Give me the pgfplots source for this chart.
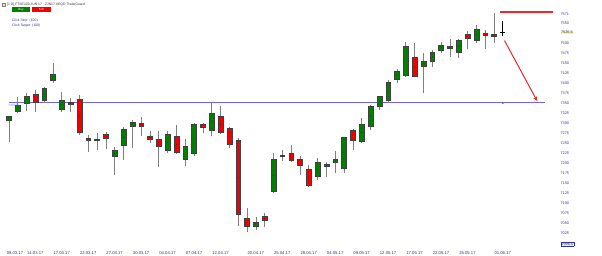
\documentclass[border=0pt]{standalone}
\usepackage{pgfplots}
\pgfplotsset{compat=1.18}
\usepackage{pgfplotstable}
\usepackage{fontspec}
\setmainfont{Liberation Sans}
\usetikzlibrary{arrows.meta}
\definecolor{cgreen}{RGB}{0,128,0}
\definecolor{cred}{RGB}{240,0,0}
\definecolor{navy}{RGB}{50,50,150}
\definecolor{bline}{RGB}{110,100,240}
\definecolor{rline}{RGB}{235,40,40}
\pgfplotstableread{
i o h l c
0 7308 7318 7253 7316
1 7330 7366 7324 7345
2 7349 7374 7331 7368
3 7372 7382 7328 7353
4 7357 7391 7349 7388
5 7407 7449 7401 7421
6 7334 7377 7328 7357
7 7353 7363 7328 7347
8 7359 7370 7270 7276
9 7262 7270 7228 7258
10 7258 7274 7232 7259
11 7272 7278 7234 7262
12 7216 7241 7170 7232
13 7245 7291 7207 7284
14 7293 7307 7237 7303
15 7299 7314 7268 7293
16 7268 7281 7249 7260
17 7260 7281 7189 7241
18 7232 7281 7224 7272
19 7266 7295 7222 7226
20 7210 7259 7192 7242
21 7224 7299 7218 7297
22 7297 7301 7274 7289
23 7282 7349 7268 7324
24 7316 7343 7272 7277
25 7287 7289 7237 7247
26 7256 7263 7042 7072
27 7063 7087 7028 7042
28 7043 7066 7032 7053
29 7067 7074 7041 7057
30 7130 7224 7124 7209
31 7218 7232 7205 7217
32 7224 7245 7203 7207
33 7209 7217 7170 7195
34 7184 7195 7141 7145
35 7166 7212 7157 7203
36 7191 7203 7164 7196
37 7202 7231 7174 7209
38 7187 7266 7174 7264
39 7282 7284 7232 7257
40 7255 7312 7249 7297
41 7291 7345 7282 7342
42 7342 7366 7332 7366
43 7356 7407 7349 7403
44 7410 7435 7400 7430
45 7420 7503 7414 7491
46 7464 7501 7415 7416
47 7441 7474 7374 7455
48 7455 7482 7441 7476
49 7481 7503 7474 7495
50 7487 7509 7466 7493
51 7478 7509 7462 7506
52 7522 7531 7484 7512
53 7507 7545 7501 7534
54 7524 7532 7484 7519
55 7522 7574 7501 7516
}\candles
\begin{document}
\begin{tikzpicture}
\path[use as bounding box] (0,-9pt) rectangle (602pt,247pt);
\begin{axis}[
  x=8.82pt, y=0.4pt,
  xmin=-1, xmax=61.7, ymin=6990, ymax=7607.5,
  axis line style={draw=none},
  tick style={draw=none},
  xtick={0.7,3,6,9,12,15,18,21,24,28,31,34,37,40,43,46,49,52,56},
  xticklabels={09.03.17,14.03.17,17.03.17,22.03.17,27.03.17,30.03.17,04.04.17,07.04.17,12.04.17,20.04.17,25.04.17,28.04.17,04.05.17,09.05.17,12.05.17,17.05.17,22.05.17,25.05.17,01.06.17},
  xticklabel style={font=\fontsize{4.2}{5}\selectfont, text=navy, yshift=-1.5pt},
  ytick={7025,7050,...,7500,7550,7571},
  yticklabels={7025,7050,7075,7100,7125,7150,7175,7200,7225,7250,7275,7300,7325,7350,7375,7400,7425,7450,7475,7500,7550,7571},
  yticklabel pos=right,
  yticklabel style={font=\fontsize{3.8}{4.5}\selectfont, text=navy, xshift=4pt},
  extra y ticks={7526.6,6996.5},
  extra y tick labels={{\setlength{\fboxsep}{0.5pt}\colorbox{yellow!55}{7526.6}},{\setlength{\fboxsep}{0.5pt}\fcolorbox{navy}{gray!15}{6996.5}}},
  extra y tick style={tick style={draw=none}, grid=none},
  /pgf/number format/assume math mode=true,
  /pgf/number format/1000 sep={},
]
% blue level line
\addplot[color=bline, line width=1pt] coordinates {(0,7350) (60.8,7350)};
\addplot[only marks, mark=*, mark size=0.8pt, color=bline] coordinates {(56,7350)};
% red line and arrow
\addplot[color=rline, line width=1.8pt] coordinates {(55.7,7578) (61.9,7578)};
\addplot[color=rline, line width=1pt, -{Stealth[length=4.5pt,width=4pt]}] coordinates {(56.2,7506) (59.9,7355)};
% current (last) bar
\addplot[color=black, line width=0.5pt] coordinates {(56,7518) (56,7556)};
\addplot[color=black, line width=0.6pt] coordinates {(55.72,7527) (56.28,7527)};
% candles
\addplot[scatter, only marks, mark=*, mark size=0.01pt,
  mark options={draw=none,fill=none},
  point meta=\thisrow{c},
  visualization depends on=\thisrow{o} \as \cO,
  visualization depends on=\thisrow{c} \as \cC,
  visualization depends on=\thisrow{h} \as \cH,
  visualization depends on=\thisrow{l} \as \cL,
  scatter/@pre marker code/.code={%
    \pgfscope
    \pgfmathsetmacro\cM{(\cO+\cC)/2}%
    \pgfmathsetmacro\wT{(\cH-\cM)*0.4}%
    \pgfmathsetmacro\wB{(\cL-\cM)*0.4}%
    \pgfmathsetmacro\hh{max(abs(\cC-\cO)*0.2,0.45)}%
    \pgfmathsetmacro\fh{2*\hh}%
    \pgfmathtruncatemacro\isup{\cC>=\cO}%
    \pgfsetlinewidth{0.55pt}\pgfsetstrokecolor{gray}%
    \pgfpathmoveto{\pgfpoint{0pt}{\wB pt}}\pgfpathlineto{\pgfpoint{0pt}{\wT pt}}\pgfusepath{stroke}%
    \ifnum\isup=1 \pgfsetfillcolor{cgreen}\else\pgfsetfillcolor{cred}\fi
    \pgfsetstrokecolor{black!75}\pgfsetlinewidth{0.3pt}%
    \pgfpathrectangle{\pgfpoint{-2.4pt}{-\hh pt}}{\pgfpoint{4.8pt}{\fh pt}}%
    \pgfusepath{fill,stroke}%
    \endpgfscope
  },
  scatter/@post marker code/.code={},
] table[x=i, y expr={(\thisrow{o}+\thisrow{c})/2}] {\candles};
\end{axis}
% level label
\node[anchor=north west, inner sep=0.3pt, font=\fontsize{2.8}{3}\selectfont, text=bline] at (8pt,143.3pt) {7350.00};
% header
\draw[gray, fill=gray!25, line width=0.3pt] (2pt,240.5pt) rectangle (5.5pt,244pt);
\node[anchor=west, inner sep=0pt, font=\fontsize{3.4}{4}\selectfont, text=black!80] at (7pt,242.5pt) {[1 D] FTSE100 JUN 17 · ZJN17.XEQD TradeGuard};
\fill[cgreen] (12pt,235pt) rectangle (30pt,239.5pt);
\node[font=\fontsize{3}{3.5}\selectfont, text=white, inner sep=0pt] at (21pt,237.25pt) {Buy};
\fill[cred] (32pt,235pt) rectangle (51pt,239.5pt);
\node[font=\fontsize{3}{3.5}\selectfont, text=white, inner sep=0pt] at (41.5pt,237.25pt) {Sell};
\node[anchor=west, inner sep=0pt, font=\fontsize{3.4}{4}\selectfont, text=navy] at (12pt,226.3pt) {Click Stop: (100)};
\node[anchor=west, inner sep=0pt, font=\fontsize{3.4}{4}\selectfont, text=navy] at (12pt,221.3pt) {Click Target: (100)};
\end{tikzpicture}
\end{document}
